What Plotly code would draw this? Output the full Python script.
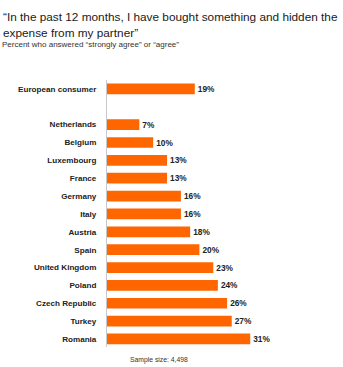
import plotly.graph_objects as go

categories = ["European consumer", "Netherlands", "Belgium", "Luxembourg", "France", "Germany",
              "Italy", "Austria", "Spain", "United Kingdom", "Poland", "Czech Republic",
              "Turkey", "Romania"]
values = [19, 7, 10, 13, 13, 16, 16, 18, 20, 23, 24, 26, 27, 31]
slots = [0, 2, 3, 4, 5, 6, 7, 8, 9, 10, 11, 12, 13, 14]
labels = [f"{v}%" for v in values]

W, H = 343, 367
ML, MR, MT, MB = 107, 20, 80, 20
plot_h = H - MT - MB
plot_w = W - ML - MR

def py(pix):
    return (H - MB - pix) / plot_h

def px(pix):
    return (pix - ML) / plot_w

fig = go.Figure(go.Bar(
    x=values, y=slots, orientation="h",
    marker=dict(color="#FF6600", line=dict(width=0)),
    width=0.6,
    text=labels, textposition="outside", cliponaxis=False,
    textfont=dict(family="Liberation Sans", size=8.3, color="#222222", weight="bold"),
))

fig.update_layout(
    width=W, height=H,
    margin=dict(l=ML, r=MR, t=MT, b=MB),
    paper_bgcolor="white", plot_bgcolor="white",
    showlegend=False,
    xaxis=dict(range=[0, plot_w / 4.62], visible=False, fixedrange=True),
    yaxis=dict(
        range=[14.45, -0.5],
        tickvals=slots, ticktext=categories,
        showgrid=False, zeroline=False,
        showline=True, linecolor="#c8c8c8", linewidth=1,
        ticks="", ticklabelstandoff=8,
        tickfont=dict(family="Liberation Sans", size=8.1, color="#222222", weight="bold"),
    ),
    bargap=0.4,
    annotations=[
        dict(text="\u201cIn the past 12 months, I have bought something and hidden the",
             xref="paper", yref="paper", x=px(1), y=py(17),
             xanchor="left", yanchor="middle", showarrow=False,
             font=dict(family="Liberation Sans", size=11.8, color="#1a1a1a")),
        dict(text="expense from my partner\u201d",
             xref="paper", yref="paper", x=px(1), y=py(33),
             xanchor="left", yanchor="middle", showarrow=False,
             font=dict(family="Liberation Sans", size=11.8, color="#1a1a1a")),
        dict(text="Percent who answered \u201cstrongly agree\u201d or \u201cagree\u201d",
             xref="paper", yref="paper", x=px(0), y=py(45),
             xanchor="left", yanchor="middle", showarrow=False,
             font=dict(family="Liberation Sans", size=8, color="#333333")),
        dict(text="Sample size: 4,498",
             xref="paper", yref="paper", x=px(159), y=py(360),
             xanchor="center", yanchor="middle", showarrow=False,
             font=dict(family="Liberation Sans", size=6.8, color="#333333")),
    ],
)

fig.write_html("out.html")
